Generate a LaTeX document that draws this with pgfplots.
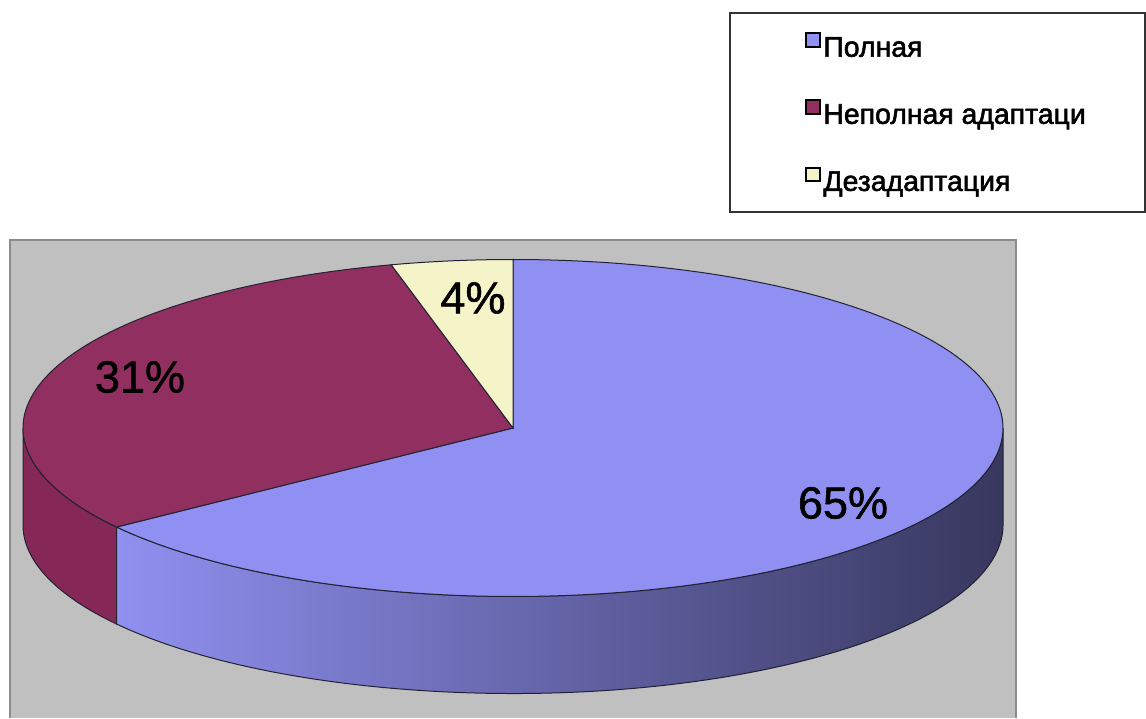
\documentclass[border=0pt]{standalone}
\usepackage{pgfplots}
\pgfplotsset{compat=1.18}
\usepackage{fontspec}
\setmainfont{Liberation Sans}
\newfontfamily\heavyfont{Liberation Sans}[FakeBold=1.2]
\newfontfamily\legfont{Liberation Sans}[FakeBold=2]
\definecolor{bgGray}{HTML}{C0C0C0}
\definecolor{frameGray}{HTML}{8C8C8C}
\definecolor{blueTop}{HTML}{9090F2}
\definecolor{redTop}{HTML}{913060}
\definecolor{redSide}{HTML}{852858}
\definecolor{yelTop}{HTML}{F5F3C8}
\definecolor{sideL}{HTML}{9090F0}
\definecolor{sideM}{HTML}{6262A4}
\definecolor{sideR}{HTML}{37375E}
\definecolor{edge}{HTML}{222233}
\begin{document}
\begin{tikzpicture}
% shares of the three categories, percent
\def\vA{65}\def\vB{31}\def\vC{4}
\pgfmathsetmacro\aA{3.6*\vA}
\pgfmathsetmacro\aB{3.6*(\vA+\vB)}
\pgfmathsetmacro\sA{90-\aA}
\def\cx{513}\def\cy{290}\def\rx{490}\def\ry{168.5}
\begin{axis}[
  width=573pt,height=359pt,scale only axis,
  xmin=0,xmax=1146,ymin=0,ymax=718,
  hide axis, clip=false,
  legend image code/.code={\draw[#1,draw=black,line width=1pt] (0pt,1.3pt) rectangle (6.6pt,7.9pt);},
  legend cell align=left,
  legend style={at={(axis cs:805,686)},anchor=north west,draw=none,fill=none,
    inner sep=0pt,row sep=17pt,font=\legfont\fontsize{14.2}{16}\selectfont,
    nodes={inner sep=1.4pt,text height=10.5pt,text depth=3pt}},
]
\fill[white] (axis cs:0,0) rectangle (axis cs:1146,718);
\fill[bgGray] (axis cs:10,0) rectangle (axis cs:1016,478);
\draw[frameGray,line width=1.1pt] (axis cs:10,0) -- (axis cs:10,478) -- (axis cs:1016,478) -- (axis cs:1016,0);
\draw[black!80,line width=0.6pt] (axis cs:730,705) rectangle (axis cs:1145,506);
% side walls
\addplot[forget plot,draw=edge,line width=0.5pt,fill=redSide,domain=\aA:270,samples=40,variable=\t]
  ({\cx+\rx*sin(\t)},{\cy+\ry*cos(\t)}) -- ++(0pt,-48.5pt)
  arc[start angle=-180,end angle=\sA,x radius=245pt,y radius=84.25pt] -- cycle;
\addplot[forget plot,draw=edge,line width=0.5pt,left color=sideL,middle color=sideM,right color=sideR,domain=90:\aA,samples=100,variable=\t]
  ({\cx+\rx*sin(\t)},{\cy+\ry*cos(\t)}) -- ++(0pt,-48.5pt)
  arc[start angle=\sA,end angle=0,x radius=245pt,y radius=84.25pt] -- cycle;
% top faces
\addplot[draw=edge,line width=0.5pt,fill=blueTop,domain=0:\aA,samples=160,variable=\t]
  ({\cx+\rx*sin(\t)},{\cy+\ry*cos(\t)}) -- (axis cs:\cx,\cy) -- cycle;
\addlegendentry{Полная}
\addplot[draw=edge,line width=0.5pt,fill=redTop,domain=\aA:\aB,samples=80,variable=\t]
  ({\cx+\rx*sin(\t)},{\cy+\ry*cos(\t)}) -- (axis cs:\cx,\cy) -- cycle;
\addlegendentry{Неполная адаптаци}
\addplot[draw=edge,line width=0.5pt,fill=yelTop,domain=\aB:360,samples=20,variable=\t]
  ({\cx+\rx*sin(\t)},{\cy+\ry*cos(\t)}) -- (axis cs:\cx,\cy) -- cycle;
\addlegendentry{Дезадаптация}
% labels
\node[font=\heavyfont\fontsize{22.5}{26}\selectfont] at (axis cs:473,420) {4\%};
\node[font=\heavyfont\fontsize{22.5}{26}\selectfont] at (axis cs:140,341) {31\%};
\node[font=\heavyfont\fontsize{22.5}{26}\selectfont] at (axis cs:843,215) {65\%};
\end{axis}
\pgfresetboundingbox
\useasboundingbox (current axis.south west) rectangle (current axis.north east);
\end{tikzpicture}
\end{document}
